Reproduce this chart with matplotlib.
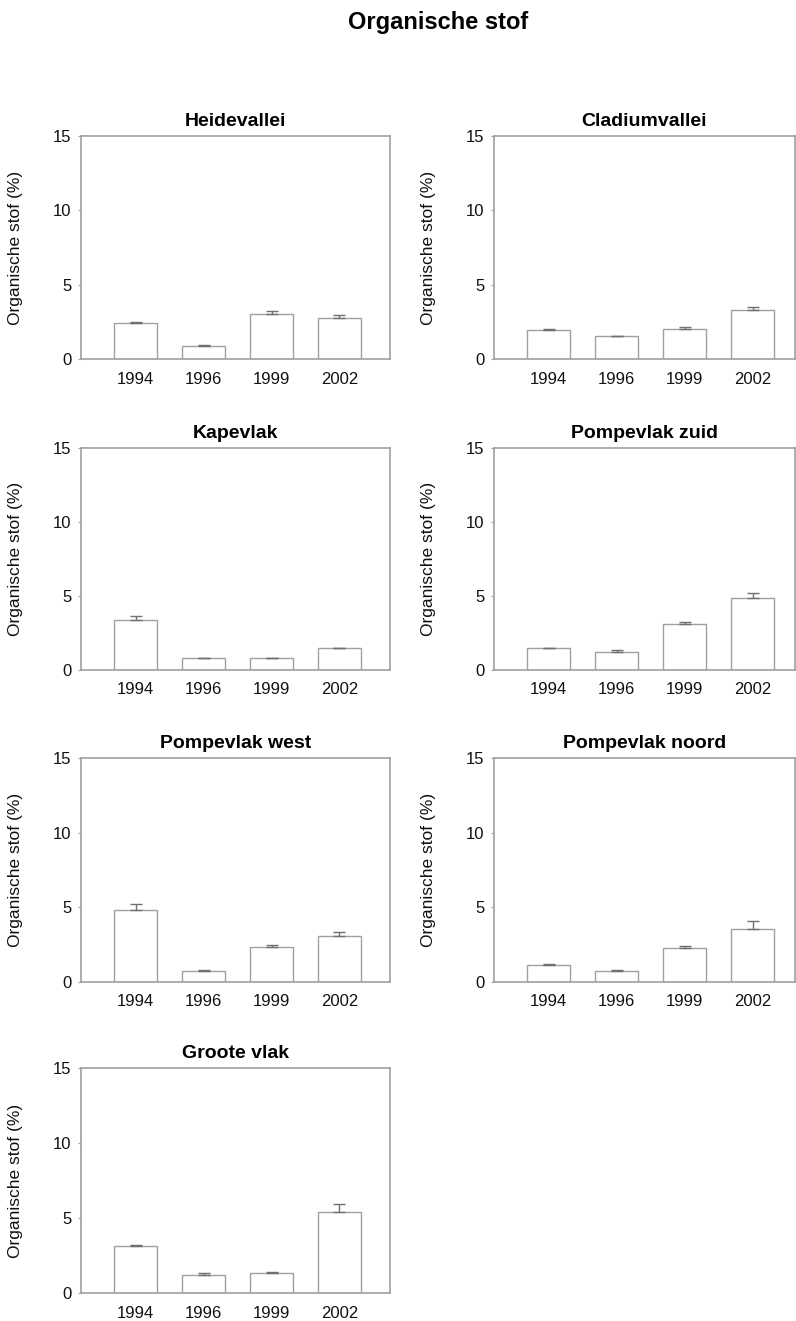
import matplotlib
matplotlib.use("Agg")
import matplotlib.pyplot as plt
import numpy as np

plt.rcParams['font.family'] = ['Liberation Sans', 'DejaVu Sans']

years = ["1994", "1996", "1999", "2002"]
sites = ["Heidevallei", "Cladiumvallei", "Kapevlak", "Pompevlak zuid",
         "Pompevlak west", "Pompevlak noord", "Groote vlak"]

# mean organic matter (%) per site and year
heidevallei = [2.40, 0.85, 3.00, 2.75]
cladiumvallei = [1.95, 1.52, 2.05, 3.30]
kapevlak = [3.37, 0.79, 0.79, 1.48]
pompevlak_zuid = [1.48, 1.24, 3.09, 4.88]
pompevlak_west = [4.83, 0.71, 2.37, 3.10]
pompevlak_noord = [1.11, 0.74, 2.30, 3.52]
groote_vlak = [3.11, 1.22, 1.33, 5.38]

# upper standard error
heidevallei_err = [0.08, 0.07, 0.25, 0.22]
cladiumvallei_err = [0.07, 0.06, 0.08, 0.20]
kapevlak_err = [0.28, 0.05, 0.05, 0.04]
pompevlak_zuid_err = [0.04, 0.10, 0.13, 0.34]
pompevlak_west_err = [0.37, 0.10, 0.10, 0.22]
pompevlak_noord_err = [0.09, 0.05, 0.09, 0.54]
groote_vlak_err = [0.10, 0.09, 0.07, 0.58]

means = [heidevallei, cladiumvallei, kapevlak, pompevlak_zuid,
         pompevlak_west, pompevlak_noord, groote_vlak]
errs = [heidevallei_err, cladiumvallei_err, kapevlak_err, pompevlak_zuid_err,
        pompevlak_west_err, pompevlak_noord_err, groote_vlak_err]

W, H = 796, 1321
fig = plt.figure(figsize=(W / 100, H / 100), dpi=100)

# axes boxes in pixels: left, right for each column; top, bottom for each row
cols = [(81, 390), (494, 795)]
rows = [(136, 359), (448, 670), (758, 982), (1068, 1293)]
px_per_unit = 68.0
grey = "#a0a0a0"

x = np.arange(len(years))
for i, site in enumerate(sites):
    c0, c1 = cols[i % 2]
    r0, r1 = rows[i // 2]
    ax = fig.add_axes([c0 / W, 1 - r1 / H, (c1 - c0) / W, (r1 - r0) / H])
    first = c0 + 54.5
    ax.bar(x, means[i], width=0.63, color="white", edgecolor=grey,
           linewidth=1.0, zorder=2)
    ax.errorbar(x, means[i], yerr=[np.zeros(4), errs[i]], fmt="none",
                ecolor="#707070", elinewidth=1.0, capsize=4, capthick=1.0,
                zorder=3)
    ax.set_xlim(-(first - c0) / px_per_unit, (c1 - first) / px_per_unit)
    ax.set_ylim(0, 15)
    ax.set_yticks([0, 5, 10, 15])
    ax.set_xticks(x)
    ax.set_xticklabels(years)
    ax.tick_params(axis="x", length=0, pad=9, labelsize=12, labelcolor="#111111")
    ax.tick_params(axis="y", length=2, color=grey, pad=5, labelsize=12,
                   labelcolor="#111111")
    for s in ax.spines.values():
        s.set_color(grey)
        s.set_linewidth(1.2)
    ax.set_title(site, fontsize=14, fontweight="bold", pad=7)
    ax.set_ylabel("Organische stof (%)", fontsize=12.5, color="#111111")
    ax.yaxis.set_label_coords(-58 / (c1 - c0), 0.5)

fig.text(438 / W, 1 - 23 / H, "Organische stof", ha="center", va="center",
         fontsize=17, fontweight="bold")

fig.savefig("out.png", dpi=100)
